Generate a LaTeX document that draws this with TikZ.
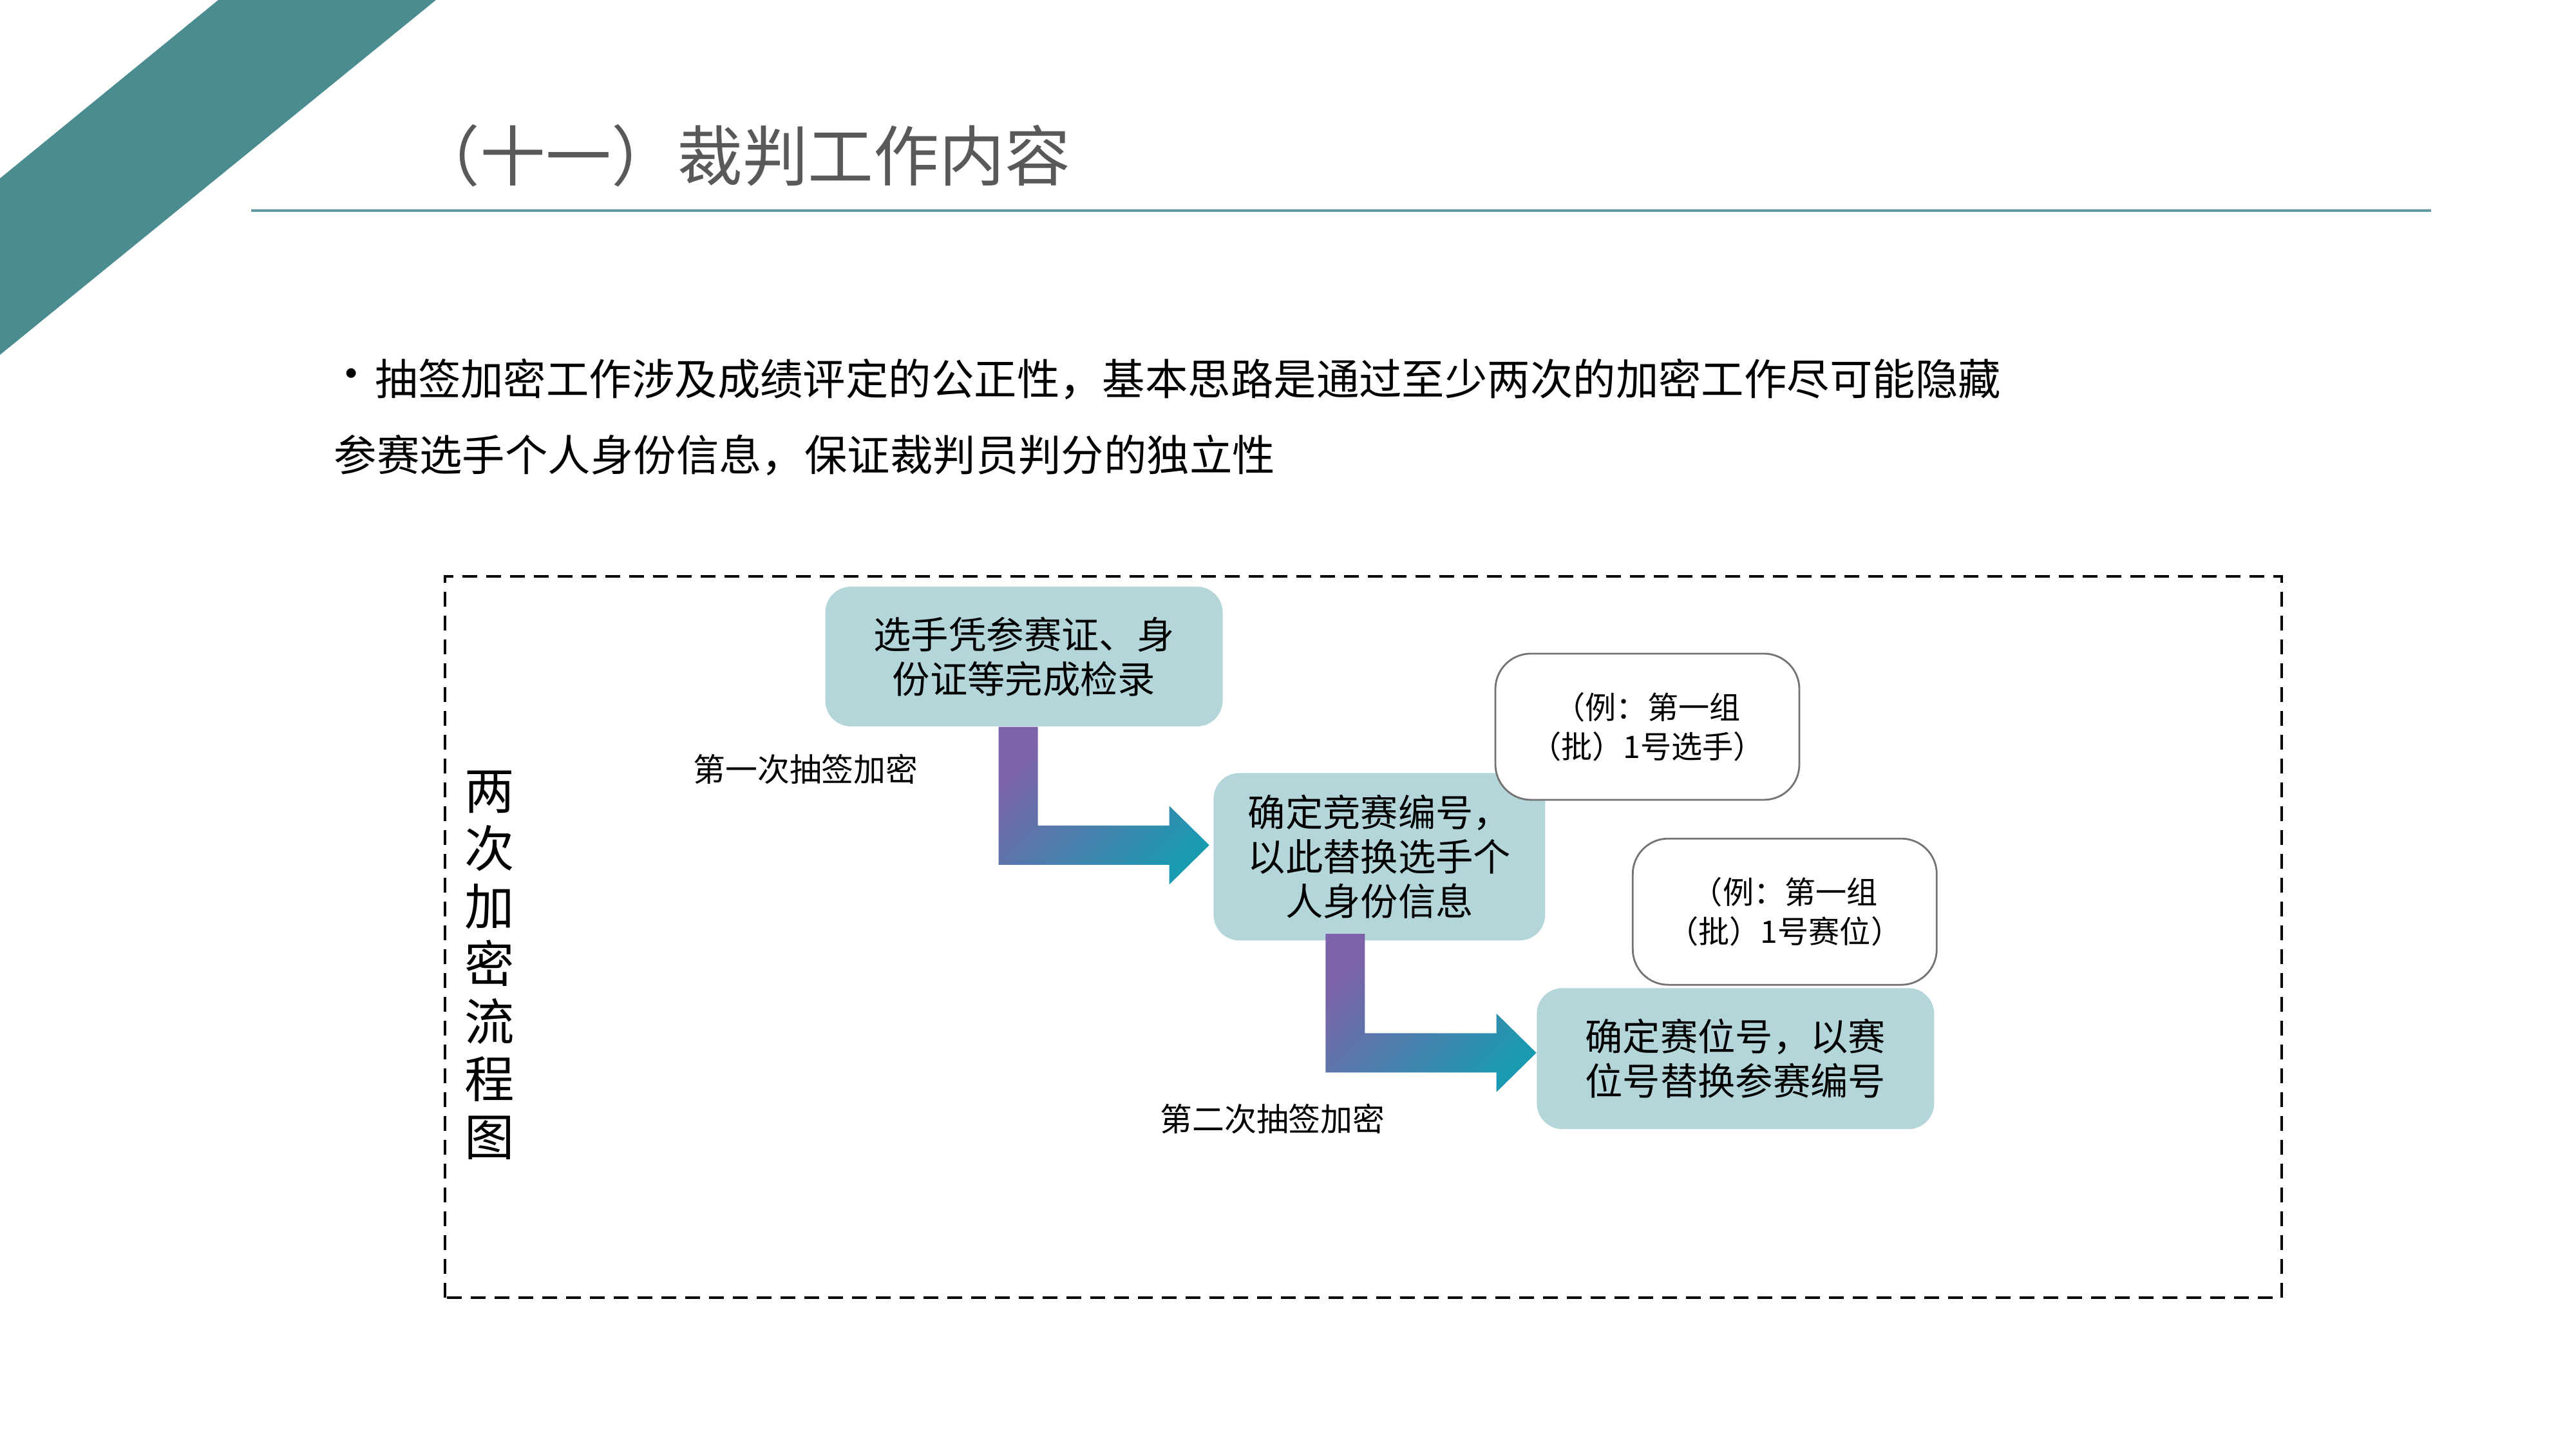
\documentclass[tikz,border=0pt]{standalone}
\usepackage{fontspec}
\setmainfont{Noto Sans CJK SC}
\usetikzlibrary{calc,positioning}
\definecolor{bandteal}{HTML}{4B8C90}
\definecolor{rulecol}{HTML}{5E9A9E}
\definecolor{boxfill}{HTML}{B4D6DA}
\definecolor{arrowpurple}{HTML}{7E62A9}
\definecolor{arrowteal}{HTML}{1A9AB0}
\definecolor{titlegray}{HTML}{595959}
\tikzset{
  stepbox/.style={fill=boxfill, rounded corners=0.4cm, minimum width=6.17cm, minimum height=2.17cm, align=center, inner sep=0pt, font=\fontsize{16.6}{19.6}\selectfont},
  notebox/.style={draw=black!55, line width=0.8pt, fill=white, rounded corners=0.55cm, minimum width=4.72cm, minimum height=2.27cm, align=center, inner sep=0pt, font=\fontsize{13.7}{17.4}\selectfont},
  steplabel/.style={font=\fontsize{14.2}{16}\selectfont},
  introtext/.style={anchor=west, inner sep=0pt, font=\fontsize{18.9}{22}\selectfont},
  bendarrow/.style={left color=arrowpurple, right color=arrowteal, shading angle=45},
  frame/.style={dashed, dash pattern=on 0.23cm off 0.14cm, line width=1.4pt}
}

\begin{document}
\begin{tikzpicture}
  \useasboundingbox (0,0) rectangle (40,22.5);

  % page header
  \fill[bandteal] (3.39,22.5) -- (6.77,22.5) -- (0,16.99) -- (0,19.73) -- cycle;
  \node[font=\fontsize{29}{32}\selectfont, text=titlegray] (title) at (11.53,20.08) {（十一）裁判工作内容};
  \draw[rulecol, line width=1pt] (3.90,19.23) -- (37.75,19.23);

  \node[font=\fontsize{20}{22}\selectfont] (dot) at (5.46,16.61) {•};
  \node[introtext] (intro1) at (5.82,16.61) {抽签加密工作涉及成绩评定的公正性，基本思路是通过至少两次的加密工作尽可能隐藏};
  \node[introtext] (intro2) at (5.18,15.43) {参赛选手个人身份信息，保证裁判员判分的独立性};

  % flow chart
  \draw[frame] (6.91,2.35) rectangle (35.43,13.55);
  \node[align=center, font=\fontsize{22}{25.5}\selectfont] (vtitle) at (7.60,7.51) {两\\次\\加\\密\\流\\程\\图};

  \node[stepbox] (b1) at (15.90,12.305) {选手凭参赛证、身\\份证等完成检录};
  \node[stepbox, minimum width=5.15cm, minimum height=2.60cm, below right=0.71cm and -0.155cm of b1] (b2) {确定竞赛编号，\\以此替换选手个\\人身份信息};
  \node[stepbox, minimum height=2.19cm, below right=0.725cm and -0.145cm of b2] (b3) {确定赛位号，以赛\\位号替换参赛编号};

  \node[notebox] (c1) at (25.58,11.215) {（例：第一组\\（批）1号选手）};
  \node[notebox, above=0.03cm of b3, xshift=0.765cm] (c2) {（例：第一组\\（批）1号赛位）};

  \coordinate (s1) at ($(b1.south)+(-0.09,0)$);
  \coordinate (t1) at ($(b2.west)+(-0.06,0.18)$);
  \shade[bendarrow] ($(s1)+(-0.305,0)$) |- ($(t1)+(-0.62,-0.305)$) -- ++(0,-0.305) -- (t1)
    -- ++(-0.62,0.61) -- ++(0,-0.305) -| ($(s1)+(0.305,0)$) -- cycle;

  \coordinate (s2) at ($(b2.south)+(-0.53,0.11)$);
  \coordinate (t2) at ($(b3.west)+(0,0.09)$);
  \shade[bendarrow] ($(s2)+(-0.305,0)$) |- ($(t2)+(-0.62,-0.305)$) -- ++(0,-0.305) -- (t2)
    -- ++(-0.62,0.61) -- ++(0,-0.305) -| ($(s2)+(0.305,0)$) -- cycle;

  \node[steplabel] (lab1) at (12.51,10.56) {第一次抽签加密};
  \node[steplabel] (lab2) at (19.76,5.13) {第二次抽签加密};
\end{tikzpicture}
\end{document}
